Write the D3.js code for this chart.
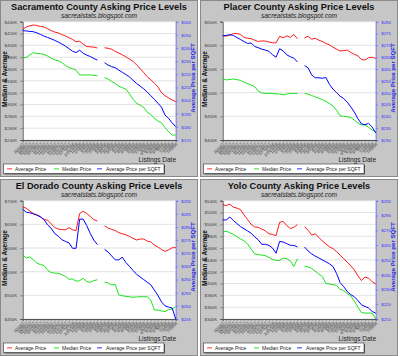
<!DOCTYPE html>
<html><head><meta charset="utf-8">
<script src="https://cdn.jsdelivr.net/npm/d3@7"></script>
<style>
body{margin:0;background:#fff}
svg{display:block}
text{font-family:"Liberation Sans",Arial,sans-serif}
</style></head>
<body><svg id="c" width="400" height="356"></svg>
<script>
// ---------- data ----------
const dates = ["10/1/07","10/8/07","10/15/07","10/22/07","10/29/07","11/5/07","11/12/07","11/19/07","11/26/07","12/3/07","12/10/07","12/17/07","12/24/07","12/31/07","1/7/08","1/14/2008","1/21/08","1/28/08","2/4/08","2/11/08","2/18/08","2/25/08","3/3/08","3/10/08","3/17/08","3/24/08","3/31/08","4/7/08","4/14/08","4/21/08","4/28/08","5/5/08","5/12/08","5/19/08","5/26/08","6/2/08","6/9/2008","6/16/08","6/23/08","6/30/08","7/7/08","7/14/08","7/21/08","7/28/08"];

const seriesNames = ["Average Price","Median Price","Average Price per SQFT"];

// Sacramento (K$ / $ per sqft)
const sacAvg = [427,431,433,434.5,433.5,432,431,428,425,422.5,421,418,416,413,410,406,407,402,398,397.5,397,395.5,null,396,395,393.5,390,387,384,380.5,377,373,367,361,354,347,342,336,330,320,315,311,307.5,305];
const sacMed = [379,379.5,384,387.5,386.5,386,384.5,382,378,375.5,374,371,366,362.5,360.5,358,350,350,350,350,349.5,348.5,null,345.5,343,339,335.5,331,328.5,326,318,309,302,299,295,287,283,277,272,269,261,254,248.5,248.5];
const sacSqft = [253.2,253,252.6,252.4,251.5,250.3,249,248,247,245.8,244.5,243,241.5,239.5,237.5,236.5,238.3,236,234.6,233.5,232,230.8,null,228.8,227,225.8,225,223.2,221.5,219.8,218,215.5,213,211,209,206.5,203.7,201,198,195,189,186.5,183,180.2];
const sacLeftTicks = [240,260,280,300,320,340,360,380,400,420,440];
const sacRightTicks = [170,180,190,200,210,220,230,240,250,260];

// Placer
const plaAvg = [620.4,619.5,621.5,625,625,623,617,615,614,611,608,609.5,609,607,605.5,605.5,619,616,620,617,623,614,null,616,619,613,615,611,608,604,601,596,592,588,589,590,585,581,578,570,569,574,575,572.5];
const plaMed = [529,527,528,529,527.5,526,522,519,516.5,513,503,499.5,498.5,498.5,498.5,497.5,497,495.5,497,498.5,498.5,498.5,null,498.5,497,494,491,488,485.5,482,477,472,463,451,450,449,447.5,442,436,432,431.7,427,421,417.6];
const plaSqft = [274.1,274.2,274.5,274.2,273.3,272.5,271.6,270.8,271,269.5,269,268.4,268,267.5,266,265,268.6,267.6,266,265.2,264.6,263,null,261.4,260.5,257.5,256.3,256.3,256.1,256.4,253.5,251.5,250,248.5,247.5,246,244,241.8,239,236.8,236.5,237,235.5,233];
const plaLeftTicks = [400,450,500,550,600,650];
const plaRightTicks = [230,235,240,245,250,255,260,265,270,275,280];

// El Dorado
const eldAvg = [687,684,678,673,670,666.5,660,659,651,643.5,640,639,638.5,643,638.5,637,673,677.5,673,667,660,657,null,647,642,639.5,637,632.5,630,628,624.5,620.5,617,619,619,614.5,613,606,602,597,593,596,600.5,601];
const eldMed = [585,579,581,575,568,565,563,553,548,547,546.5,544,540,534,534.5,530,531,536,529,527.5,531,533,null,528,526,522,523,501,499,498,497,496,496.5,497.2,497.2,497,490,469,469,467,465.5,470,471,476];
const eldSqft = [286.8,285.6,285.4,285,284.5,283.8,282.8,280.8,279.5,277.5,276.5,275.2,274.5,274,271.9,271.9,283,283,280.5,277.5,275,273.3,null,271.5,270.5,269,267.5,267.5,268.5,266.5,265,263.5,262,261,260,259,258,256,254,251.5,250,249.5,249.2,245];
const eldLeftTicks = [450,500,550,600,650,700];
const eldRightTicks = [245,250,255,260,265,270,275,280,285,290];

// Yolo
const yolAvg = [533.3,531.8,534,529,527.5,525,516,508,500,495.5,495,492,489,484,483,481,503.5,505,498,493,495,499.5,null,496,490,482,484,478,472,467,462,459,454,448,442,436,430,423,413,405,411,409,403,399.5];
const yolMed = [487,488.5,486,483,479,475.5,472,467,458,450,449,448,447,444,441,439,439,443,442,438,429,442,null,429.4,428,425.5,421,416,412,400,399,398,397,390,388,383,379,370,360,351,350,350,350,340];
const yolSqft = [277,277,279,276.6,274.5,272.5,271,269.5,268,265.5,263.5,260.5,260.5,259.8,258,254.5,262.5,262,261,259.8,259.8,258.7,null,258.7,256,254,252.5,251.3,250,248.7,247.3,245.5,240.8,234.6,231.9,228.5,226.5,225,222.5,219.6,218.5,217.4,215.1,214];
const yolLeftTicks = [340,360,380,400,420,440,460,480,500,520,540];
const yolRightTicks = [210,220,230,240,250,260,270,280,290];

const colors = ["#ff0000","#00e000","#0000ff"];

const panels = [
  {x:0,y:0,title:"Sacramento County Asking Price Levels",avg:sacAvg,med:sacMed,sqft:sacSqft,lt:sacLeftTicks,rt:sacRightTicks},
  {x:200,y:0,title:"Placer County Asking Price Levels",avg:plaAvg,med:plaMed,sqft:plaSqft,lt:plaLeftTicks,rt:plaRightTicks},
  {x:0,y:179,title:"El Dorado County Asking Price Levels",avg:eldAvg,med:eldMed,sqft:eldSqft,lt:eldLeftTicks,rt:eldRightTicks},
  {x:200,y:179,title:"Yolo County Asking Price Levels",avg:yolAvg,med:yolMed,sqft:yolSqft,lt:yolLeftTicks,rt:yolRightTicks}
];

// ---------- drawing ----------
const svg = d3.select("#c");
const PW=198, PH=177;
const X0=22.7, X1=175.7, Y0=21.7, Y1=140;

panels.forEach(p=>{
  const g = svg.append("g").attr("transform",`translate(${p.x},${p.y})`);
  g.append("rect").attr("x",0.5).attr("y",0.5).attr("width",PW-1).attr("height",PH-1)
    .attr("fill","#c6c6c6").attr("stroke","#8a8a8a");

  g.append("text").attr("x",99).attr("y",10.3).attr("text-anchor","middle")
    .attr("font-size",9.2).attr("font-weight","bold").attr("fill","#111").text(p.title);
  g.append("text").attr("x",99).attr("y",18.2).attr("text-anchor","middle")
    .attr("font-size",6.6).attr("font-style","italic").attr("fill","#222").text("sacrealstats.blogspot.com");

  const lDom=d3.extent(p.lt), rDom=d3.extent(p.rt);
  const x = d3.scalePoint().domain(d3.range(dates.length)).range([X0,X1]).padding(0);
  const yL = d3.scaleLinear().domain(lDom).range([Y1,Y0]);
  const yR = d3.scaleLinear().domain(rDom).range([Y1,Y0]);

  g.append("rect").attr("x",X0).attr("y",Y0).attr("width",X1-X0).attr("height",Y1-Y0).attr("fill","#fff");

  // gridlines
  g.append("g").selectAll("line").data(p.lt).join("line")
    .attr("x1",X0).attr("x2",X1).attr("y1",d=>yL(d)).attr("y2",d=>yL(d))
    .attr("stroke","#dcdcdc").attr("stroke-width",0.8);

  // left axis
  const minorL = d3.range(lDom[0],lDom[1]+0.001,10);
  const la = g.append("g").attr("transform",`translate(${X0},0)`)
    .call(d3.axisLeft(yL).tickValues(minorL).tickSize(1.5).tickFormat(""));
  la.call(d3.axisLeft(yL).tickValues(p.lt).tickSize(2.5).tickFormat(d=>"$"+d+"K"));
  la.selectAll("path").attr("stroke","#333").attr("stroke-width",0.8);
  la.selectAll("line").attr("stroke","#555").attr("stroke-width",0.6);
  la.selectAll("text").attr("font-size",4.4).attr("fill","#444").attr("font-family","Liberation Sans");

  // right axis
  const rStep = p.rt[1]-p.rt[0];
  const minorR = d3.range(rDom[0],rDom[1]+0.001,rStep/2);
  const ra = g.append("g").attr("transform",`translate(${X1},0)`)
    .call(d3.axisRight(yR).tickValues(minorR).tickSize(1.5).tickFormat(""));
  ra.call(d3.axisRight(yR).tickValues(p.rt).tickSize(2.5).tickFormat(d=>"$"+d));
  ra.selectAll("path").attr("stroke","#6666ff").attr("stroke-width",0.8);
  ra.selectAll("line").attr("stroke","#6666ff").attr("stroke-width",0.6);
  ra.selectAll("text").attr("font-size",4.4).attr("fill","#3333ff").attr("font-family","Liberation Sans");

  // x axis
  const xa = g.append("g").attr("transform",`translate(0,${Y1})`)
    .call(d3.axisBottom(x).tickSize(2).tickFormat(i=>dates[i]));
  xa.selectAll("path").attr("stroke","#333").attr("stroke-width",0.8);
  xa.selectAll("line").attr("stroke","#666").attr("stroke-width",0.5);
  xa.selectAll("text").attr("font-size",4).attr("fill","#333").attr("font-family","Liberation Sans")
    .attr("text-anchor","end").attr("dy",null).attr("y",0)
    .attr("transform","translate(1.5,4.5) rotate(-45)");

  // lines
  [p.avg,p.med].forEach((arr,k)=>{
    g.append("path").datum(arr).attr("fill","none").attr("stroke",colors[k]).attr("stroke-width",0.9)
      .attr("d",d3.line().defined(d=>d!=null).x((d,i)=>x(i)).y(d=>yL(d)));
  });
  g.append("path").datum(p.sqft).attr("fill","none").attr("stroke",colors[2]).attr("stroke-width",1)
    .attr("d",d3.line().defined(d=>d!=null).x((d,i)=>x(i)).y(d=>yR(d)));

  // axis titles
  g.append("text").attr("transform","translate(6.6,79) rotate(-90)").attr("text-anchor","middle")
    .attr("font-size",6.5).attr("font-weight","bold").attr("fill","#111").text("Median & Average");
  g.append("text").attr("transform","translate(194.5,78) rotate(-90)").attr("text-anchor","middle")
    .attr("font-size",6.1).attr("font-weight","bold").attr("fill","#2222ee").text("Average Price per SQFT");
  g.append("text").attr("x",176).attr("y",162).attr("text-anchor","end")
    .attr("font-size",6.5).attr("fill","#222").text("Listings Date");

  // legend
  g.append("rect").attr("x",4.5).attr("y",165).attr("width",160.5).attr("height",9.5).attr("fill","#555");
  g.append("rect").attr("x",3.5).attr("y",164).attr("width",160.5).attr("height",9.5).attr("fill","#fff").attr("stroke","#333").attr("stroke-width",0.6);
  const lx=[7,54,97], tx=[15,62,106];
  seriesNames.forEach((n,k)=>{
    g.append("line").attr("x1",lx[k]).attr("x2",lx[k]+5).attr("y1",168.8).attr("y2",168.8)
      .attr("stroke",colors[k]).attr("stroke-opacity",0.6).attr("stroke-width",1.4);
    g.append("text").attr("x",tx[k]).attr("y",170.6).attr("font-size",5).attr("fill","#222").text(n);
  });
});
</script>
</body></html>
